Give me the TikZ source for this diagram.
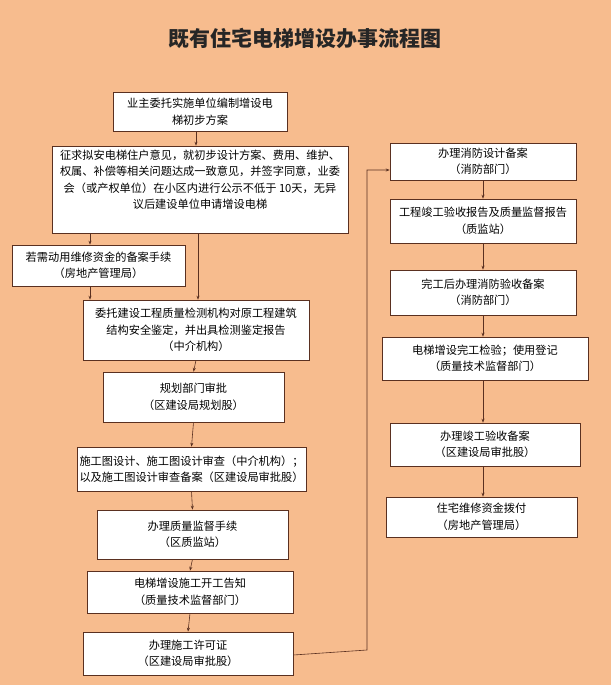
\documentclass[tikz,border=0pt]{standalone}
\usepackage{fontspec}
\setmainfont{Noto Sans CJK SC}
\usetikzlibrary{arrows.meta}
\definecolor{bg}{HTML}{F7BC8E}
\definecolor{ln}{HTML}{5A3020}
\begin{document}
\begin{tikzpicture}[x=1pt,y=-1pt,
  bx/.style={draw=ln,fill=white,line width=0.6pt,align=center,font=\fontsize{11.2}{16.5}\selectfont,inner sep=1pt},
  ar/.style={draw=ln,line width=0.6pt,-{Stealth[length=4pt,width=3pt]}}]
\fill[bg] (0,0) rectangle (611,685);
\useasboundingbox (0,0) rectangle (611,685);
\node[font=\fontsize{21}{24}\selectfont\bfseries,text=black!85] (t) at (305,38) {既有住宅电梯增设办事流程图};
\newcommand\bxat[6]{\node[bx,minimum width=#4-#2,minimum height=#5-#3] (#1) at ({(#2+#4)/2},{(#3+#5)/2}) {#6};}
\bxat{b1}{113}{92}{287}{131}{业主委托实施单位编制增设电\\梯初步方案}
\bxat{b2}{52}{146}{348}{233}{征求拟安电梯住户意见，就初步设计方案、费用、维护、\\权属、补偿等相关问题达成一致意见，并签字同意，业委\\会（或产权单位）在小区内进行公示不低于 10天，无异\\议后建设单位申请增设电梯\\[4pt]}
\bxat{b3}{12}{245}{185}{286}{若需动用维修资金的备案手续\\（房地产管理局）}
\bxat{b4}{83}{300}{309}{360}{委托建设工程质量检测机构对原工程建筑\\结构安全鉴定，并出具检测鉴定报告\\（中介机构）}
\bxat{b5}{103}{372}{284}{422}{规划部门审批\\（区建设局规划股）}
\bxat{b6}{77}{447}{306}{491}{施工图设计、施工图设计审查（中介机构）；\\以及施工图设计审查备案（区建设局审批股）}
\bxat{b7}{97}{510}{288}{559}{办理质量监督手续\\（区质监站）}
\bxat{b8}{87}{571}{293}{613}{电梯增设施工开工告知\\（质量技术监督部门）}
\bxat{b9}{83}{632}{293}{675}{办理施工许可证\\（区建设局审批股）}
\bxat{r1}{390}{143}{576}{180}{办理消防设计备案\\（消防部门）}
\bxat{r2}{390}{199}{576}{243}{工程竣工验收报告及质量监督报告\\（质监站）}
\bxat{r3}{390}{270}{576}{315}{完工后办理消防验收备案\\（消防部门）}
\bxat{r4}{382}{337}{588}{380}{电梯增设完工检验；使用登记\\（质量技术监督部门）}
\bxat{r5}{390}{423}{580}{466}{办理竣工验收备案\\（区建设局审批股）}
\bxat{r6}{386}{497}{577}{537}{住宅维修资金拨付\\（房地产管理局）}
\draw[ar] (196,131) -- (b2.north -| 196,0);
\draw[ar] (90,233) -- (b3.north -| 90,0);
\draw[ar] (198,233) -- (b4.north -| 198,0);
\draw[ar] (90,286) -- (b4.north -| 90,0);
\foreach \a/\b in {b4/b5,b5/b6,b6/b7,b7/b8,b8/b9}{\draw[ar] (\a.south) -- (\b.north);}
\foreach \a/\b in {r1/r2,r2/r3,r3/r4,r4/r5,r5/r6}{\draw[ar] (\a.south -| 483,0) -- (\b.north -| 483,0);}
\coordinate (c1) at (367,650);
\coordinate (c2) at (367,170);
\draw[ar] (b9.east |- 0,655) -- (c1) -- (c2) -- (r1.west |- c2);
\end{tikzpicture}
\end{document}
